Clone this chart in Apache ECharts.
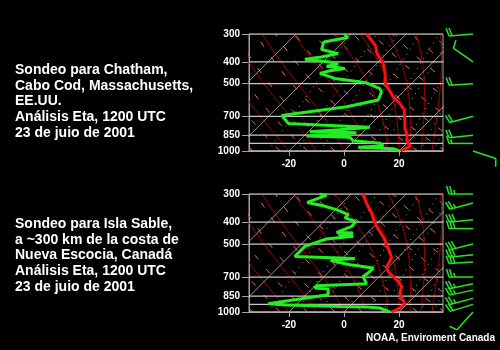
<!DOCTYPE html>
<html>
<head>
<meta charset="utf-8">
<script src="https://cdn.jsdelivr.net/npm/echarts@6/dist/echarts.min.js"></script>
<style>
  html, body { margin: 0; padding: 0; background: #000; }
  #chart { width: 500px; height: 350px; }
</style>
</head>
<body>
<div id="chart"></div>
<script>
// ---- Chatham, Cape Cod sounding (hPa, degC) ----
const chathamTP  = [300, 320, 341, 361, 375, 400, 441, 460, 491, 526, 573, 613, 656, 703, 740, 792, 849, 893, 924, 950, 973, 1000];
const chathamT   = [-34.4, -30.3, -26.5, -24.2, -22.3, -18.3, -14.1, -12.5, -10.3, -6.7, -1.8, 3.0, 7.0, 9.5, 11.5, 13.9, 17.2, 18.8, 20.5, 22.3, 21.5, 20.6];
const chathamTdP = [300, 311, 326, 352, 367, 380, 389, 400, 409, 418, 428, 438, 450, 474, 496, 526, 544, 592, 634, 689, 694, 753, 766, 784, 800, 820, 829, 857, 869, 900, 924, 950, 963, 977, 1000];
const chathamTd  = [-42.5, -40.0, -47.0, -45.1, -37.6, -42.4, -47.6, -37.6, -33.7, -37.2, -29.7, -34.3, -37.0, -29.7, -16.6, -9.7, -7.9, -6.1, -15.1, -33.9, -35.5, -30.3, -18.2, 0.8, -6.9, -19.4, -2.1, -19.0, -2.8, -0.4, 10.3, 12.5, 3.9, 17.1, 20.1];
const chathamWindP   = [300, 400, 500, 700, 850, 925, 1000];
const chathamWindDir = [265, 305, 266, 255, 264, 270, 108];
const chathamWindKt  = [20, 10, 20, 20, 20, 15, 10];

// ---- Sable Island sounding (hPa, degC) ----
const sableTP  = [300, 329, 364, 397, 429, 465, 503, 548, 571, 597, 632, 661, 696, 732, 770, 824, 867, 919, 960, 1000];
const sableT   = [-35.6, -31.2, -25.7, -21.7, -17.5, -12.8, -8.8, -4.6, -2.6, -1.6, -0.8, 1.4, 5.0, 8.7, 11.7, 13.5, 15.9, 19.2, 18.9, 17.3];
const sableTdP = [300, 304, 327, 338, 352, 370, 383, 397, 417, 444, 447, 454, 462, 475, 512, 567, 575, 580, 590, 605, 617, 638, 672, 696, 749, 765, 783, 791, 838, 919, 931, 945, 950, 960, 994, 1000];
const sableTd  = [-51.5, -48.5, -52.9, -46.0, -39.7, -33.6, -33.6, -28.4, -28.1, -31.4, -25.2, -30.0, -23.9, -32.7, -37.9, -37.9, -24.0, -15.3, -23.5, -19.0, -14.9, -5.2, -5.3, -5.9, -2.0, -19.4, -19.2, -14.0, -12.0, -30.5, -23.3, -3.5, 6.4, 11.6, 15.9, 16.8];
const sableWindP   = [300, 329, 390, 427, 500, 557, 600, 700, 750, 800, 870, 925, 1000];
const sableWindDir = [270, 255, 264, 270, 256, 264, 266, 270, 258, 258, 255, 253, 222];
const sableWindKt  = [25, 25, 30, 30, 30, 30, 30, 25, 25, 25, 25, 20, 10];

// ---- axes ----
const pressureTicks = [300, 400, 500, 700, 850, 1000];
const isobarLevels  = [300, 400, 500, 700, 850, 925, 1000];
const tempTicks     = [-20, 0, 20];
const isothermLevels = [-120, -100, -80, -60, -40, -20, 0, 20, 40];
const dryThetaK     = [];
for (let th = 230; th <= 470; th += 10) dryThetaK.push(th);
const moistThetaW   = [-20, -10, 0, 8, 16, 20, 24, 28, 32];
const mixingRatios  = [0.4, 1, 2, 4, 7, 10, 16, 24, 32];

const TMIN = -34.5, TMAX = 36;
const PTOP = 300, PBOT = 1000;
const LMAX = Math.log(PBOT / PTOP);
const SKEW = 35.4;          // degC of skew per unit ln(p)

const lnP = p => Math.log(PBOT / p);
const skew = (t, p) => [t + SKEW * lnP(p), lnP(p)];

// ---- thermodynamic reference curves ----
function satVap(tc) { return 6.112 * Math.exp(17.67 * tc / (tc + 243.5)); }
function moistRate(tk, p) {
  const es = satVap(tk - 273.15);
  const rs = 0.622 * es / (p - es);
  const num = 287 * tk + 2.5e6 * rs;
  const den = 1005 + 2.5e6 * 2.5e6 * rs * 0.622 / (287 * tk * tk);
  return num / den / p;
}
function moistCurve(tw) {
  let tk = tw + 273.15;
  const pts = [];
  const dp = -10;
  for (let p = PBOT; p >= PTOP - 1; p += dp) {
    pts.push(skew(tk - 273.15, p));
    const k1 = moistRate(tk, p);
    const k2 = moistRate(tk + k1 * dp / 2, p + dp / 2);
    tk += k2 * dp;
  }
  return pts;
}
function dryCurve(th) {
  const pts = [];
  for (let p = PBOT; p >= PTOP - 1; p -= 20) pts.push(skew(th * Math.pow(p / 1000, 0.2857) - 273.15, p));
  return pts;
}
function mixCurve(w) {
  const pts = [];
  for (let p = PBOT; p >= PTOP - 1; p -= 50) {
    const e = w * p / (622 + w);
    const a = Math.log(e / 6.112);
    pts.push(skew(243.5 * a / (17.67 - a), p));
  }
  return pts;
}
const isothermLines = isothermLevels.map(t => ({ coords: [skew(t, PBOT), skew(t, PTOP)] }));
const isobarLines   = isobarLevels.map(p => ({ coords: [[TMIN, lnP(p)], [TMAX, lnP(p)]] }));
const dryLines      = dryThetaK.map(th => ({ coords: dryCurve(th) }));
const moistLines    = moistThetaW.map(tw => ({ coords: moistCurve(tw) }));
const mixLines      = mixingRatios.map(w => ({ coords: mixCurve(w) }));

const profile = (ps, ts) => ps.map((p, i) => skew(ts[i], p));

// ---- wind barbs ----
function barbItem(params, api) {
  const pt = api.coord([TMAX, api.value(0)]);
  const dir = api.value(1) * Math.PI / 180;
  let kt = api.value(2);
  const sx = pt[0] + 30, sy = pt[1];
  const ux = Math.sin(dir), uy = -Math.cos(dir);
  const px = -uy, py = ux;
  const len = 24, fl = 8, tilt = 0.3;
  const ex = sx + ux * len, ey = sy + uy * len;
  const lineStyle = { stroke: '#22e622', lineWidth: 1.5 };
  const kids = [{ type: 'line', shape: { x1: sx, y1: sy, x2: ex, y2: ey }, style: lineStyle }];
  let d = 0;
  while (kt >= 10) {
    const bx = ex - ux * d, by = ey - uy * d;
    kids.push({ type: 'line', shape: { x1: bx, y1: by, x2: bx + (px + ux * tilt) * fl, y2: by + (py + uy * tilt) * fl }, style: lineStyle });
    kt -= 10; d += 3;
  }
  if (kt >= 5) {
    if (d === 0) d = 3;
    const bx = ex - ux * d, by = ey - uy * d;
    kids.push({ type: 'line', shape: { x1: bx, y1: by, x2: bx + (px + ux * tilt) * fl / 2, y2: by + (py + uy * tilt) * fl / 2 }, style: lineStyle });
  }
  return { type: 'group', children: kids };
}

// ---- chart ----
const gridDefs = [
  { left: 249, top: 34, width: 194, height: 117 },
  { left: 249, top: 194, width: 194, height: 118 }
];
const axisGray = '#a89e9e';
const labelFont = { color: '#ffffff', fontWeight: 'bold', fontSize: 10, fontFamily: 'Liberation Sans, Arial, sans-serif' };

function panelSeries(gi, tP, tV, dP, dV, wP, wD, wK) {
  const base = { xAxisIndex: gi, yAxisIndex: gi };
  return [
    Object.assign({ type: 'lines', coordinateSystem: 'cartesian2d', polyline: true, silent: true, z: 1,
      lineStyle: { color: '#b0b030', width: 1, type: [1, 5], opacity: 1 }, data: mixLines }, base),
    Object.assign({ type: 'lines', coordinateSystem: 'cartesian2d', polyline: true, silent: true, z: 2,
      lineStyle: { color: '#e06c6c', width: 1, type: [6, 12], opacity: 1 }, data: dryLines }, base),
    Object.assign({ type: 'lines', coordinateSystem: 'cartesian2d', polyline: true, silent: true, z: 3,
      lineStyle: { color: '#a40000', width: 1, opacity: 1 }, data: moistLines }, base),
    Object.assign({ type: 'lines', coordinateSystem: 'cartesian2d', polyline: true, silent: true, z: 4,
      lineStyle: { color: '#bdb3b3', width: 0.8, opacity: 1 }, data: isothermLines }, base),
    Object.assign({ type: 'lines', coordinateSystem: 'cartesian2d', polyline: true, silent: true, z: 5,
      lineStyle: { color: '#cfc7c7', width: 1.2, opacity: 1 }, data: isobarLines }, base),
    Object.assign({ type: 'line', showSymbol: false, silent: true, z: 6, animation: false,
      lineStyle: { color: '#22ee22', width: 3 }, data: profile(dP, dV) }, base),
    Object.assign({ type: 'line', showSymbol: false, silent: true, z: 7, animation: false,
      lineStyle: { color: '#ff1010', width: 3 }, data: profile(tP, tV) }, base),
    Object.assign({ type: 'custom', clip: false, silent: true, z: 8, renderItem: barbItem,
      encode: { x: -1, y: 0 },
      data: wP.map((p, i) => [lnP(p), wD[i], wK[i]]) }, base)
  ];
}

const chart = echarts.init(document.getElementById('chart'), null, { renderer: 'canvas' });

const textLines = (lines, x, y0, dy) => lines.map((s, i) => ({
  type: 'text', x: x, y: y0 + i * dy,
  style: { text: s, fill: '#ffffff', font: 'bold 14px "Liberation Sans", Arial, sans-serif', textVerticalAlign: 'middle' }
}));

chart.setOption({
  backgroundColor: '#000000',
  animation: false,
  grid: gridDefs.map(g => Object.assign({ show: true, borderColor: axisGray, borderWidth: 1, backgroundColor: '#000' }, g)),
  xAxis: [0, 1].map(gi => ({
    type: 'value', gridIndex: gi, min: TMIN, max: TMAX,
    axisLine: { show: true, onZero: false, lineStyle: { color: axisGray, width: 1 } },
    axisTick: { show: true, length: 5, customValues: tempTicks, lineStyle: { color: axisGray } },
    axisLabel: Object.assign({ customValues: tempTicks, margin: 8 }, labelFont),
    splitLine: { show: false }
  })),
  yAxis: [0, 1].map(gi => ({
    type: 'value', gridIndex: gi, min: 0, max: LMAX,
    axisLine: { show: true, onZero: false, lineStyle: { color: axisGray, width: 1 } },
    axisTick: { show: true, length: 7, customValues: pressureTicks.map(lnP), lineStyle: { color: axisGray } },
    axisLabel: Object.assign({ customValues: pressureTicks.map(lnP), margin: 9,
      formatter: v => String(Math.round(PBOT / Math.exp(v))) }, labelFont),
    splitLine: { show: false }
  })),
  series: [].concat(
    panelSeries(0, chathamTP, chathamT, chathamTdP, chathamTd, chathamWindP, chathamWindDir, chathamWindKt),
    panelSeries(1, sableTP, sableT, sableTdP, sableTd, sableWindP, sableWindDir, sableWindKt)
  ),
  graphic: [].concat(
    textLines(['Sondeo para Chatham,', 'Cabo Cod, Massachusetts,', 'EE.UU.', 'Análisis Eta, 1200 UTC', '23 de juio de 2001'], 15, 70, 15.7),
    textLines(['Sondeo para Isla Sable,', 'a ~300 km de la costa de', 'Nueva Escocia, Canadá', 'Análisis Eta, 1200 UTC', '23 de juio de 2001'], 15, 224, 15.7),
    [{ type: 'text', right: 5, top: 333,
       style: { text: 'NOAA, Enviroment Canada', fill: '#ffffff', font: 'bold 10px "Liberation Sans", Arial, sans-serif' } }]
  )
});
</script>
</body>
</html>
